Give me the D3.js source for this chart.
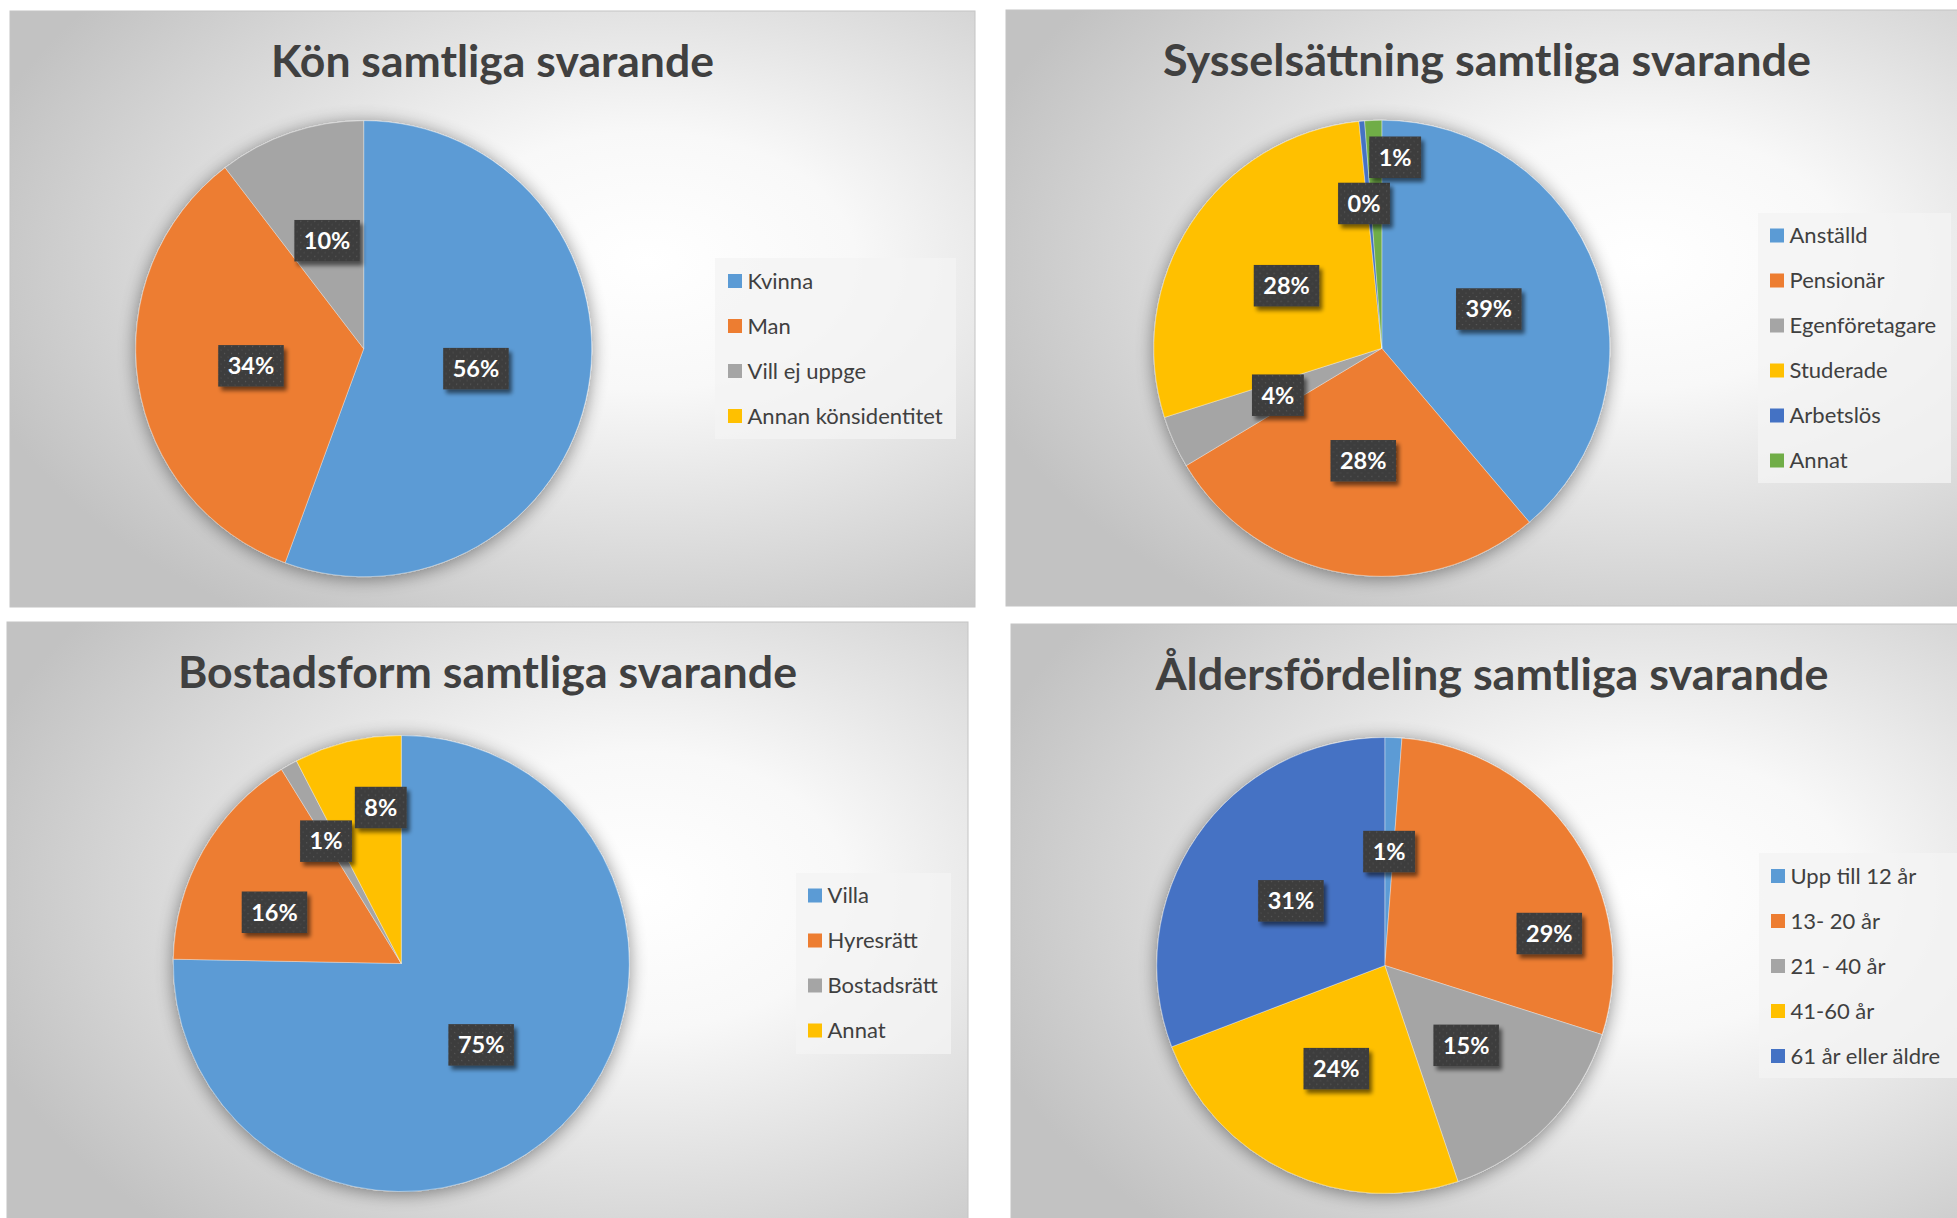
<!DOCTYPE html>
<html><head><meta charset="utf-8">
<script src="https://cdn.jsdelivr.net/npm/d3@7"></script>
<style>
body{margin:0;background:#fff;overflow:hidden}
svg{display:block}
</style>
</head><body>
<svg id="c" width="1957" height="1218"></svg>
<script>
// ---------- DATA ----------
const konTitle = "Kön samtliga svarande";
const konCategories = ["Kvinna", "Man", "Vill ej uppge", "Annan könsidentitet"];
const konValues = [55.6, 34.0, 10.4, 0];

const sysTitle = "Sysselsättning samtliga svarande";
const sysCategories = ["Anställd", "Pensionär", "Egenföretagare", "Studerade", "Arbetslös", "Annat"];
const sysValues = [38.8, 27.6, 3.7, 28.3, 0.4, 1.2];

const bostadTitle = "Bostadsform samtliga svarande";
const bostadCategories = ["Villa", "Hyresrätt", "Bostadsrätt", "Annat"];
const bostadValues = [75.3, 15.9, 1.2, 7.6];

const alderTitle = "Åldersfördeling samtliga svarande";
const alderCategories = ["Upp till 12 år", "13- 20 år", "21 - 40 år", "41-60 år", "61 år eller äldre"];
const alderValues = [1.2, 28.7, 14.9, 24.4, 30.8];

const palette = ["#5B9BD5", "#ED7D31", "#A5A5A5", "#FFC000", "#4472C4", "#70AD47"];

// ---------- LAYOUT ----------
const FONT = "Lato, Carlito, Calibri, 'Open Sans', sans-serif";
const R = 228;
const charts = [
  { title: konTitle, cats: konCategories, vals: konValues, titleW: 443,
    panel: {x: 10, y: 11, w: 965, h: 596}, center: [363.7, 348.7],
    legend: {x: 715, y: 258, w: 241, h: 181, y0: 281, sx: 728},
    labelAdjust: {} },
  { title: sysTitle, cats: sysCategories, vals: sysValues, titleW: 648,
    panel: {x: 1006, y: 10, w: 962, h: 596}, center: [1381.8, 348.3],
    legend: {x: 1758, y: 213, w: 193, h: 270, y0: 235.5, sx: 1770},
    labelAdjust: {4: {a: 353, f: 0.64}, 5: {a: 4, f: 0.84}} },
  { title: bostadTitle, cats: bostadCategories, vals: bostadValues, titleW: 619,
    panel: {x: 7, y: 622, w: 961, h: 640}, center: [401.3, 963.5],
    legend: {x: 796, y: 873, w: 155, h: 181, y0: 895.5, sx: 808},
    labelAdjust: {1: {a: 292, f: 0.60}, 2: {a: 328.4, f: 0.63}, 3: {a: 352.5, f: 0.69}} },
  { title: alderTitle, cats: alderCategories, vals: alderValues, titleW: 673,
    panel: {x: 1011, y: 624, w: 962, h: 640}, center: [1384.8, 965.5],
    legend: {x: 1759, y: 853, w: 210, h: 225, y0: 876, sx: 1771},
    labelAdjust: {1: {a: 79, f: 0.735}} }
];

const svg = d3.select("#c");
const defs = svg.append("defs");

// panel gradient
const grad = defs.append("radialGradient").attr("id", "panelGrad")
  .attr("cx", 0.66).attr("cy", 0.42).attr("r", 0.72).attr("fx", 0.66).attr("fy", 0.42);
grad.append("stop").attr("offset", 0).attr("stop-color", "#ffffff");
grad.append("stop").attr("offset", 0.3).attr("stop-color", "#f8f8f8");
grad.append("stop").attr("offset", 1).attr("stop-color", "#c2c2c2");

// pie shadow
const fp = defs.append("filter").attr("id", "pieShadow")
  .attr("x", -0.2).attr("y", -0.2).attr("width", 1.4).attr("height", 1.4);
fp.append("feGaussianBlur").attr("in", "SourceAlpha").attr("stdDeviation", 9).attr("result", "b");
fp.append("feOffset").attr("in", "b").attr("dx", 0).attr("dy", 2).attr("result", "o");
fp.append("feComponentTransfer").attr("in", "o").attr("result", "s")
  .append("feFuncA").attr("type", "linear").attr("slope", 0.45);
const fpm = fp.append("feMerge");
fpm.append("feMergeNode").attr("in", "s");
fpm.append("feMergeNode").attr("in", "SourceGraphic");

// label box shadow
const fb = defs.append("filter").attr("id", "boxShadow")
  .attr("x", -0.3).attr("y", -0.3).attr("width", 1.6).attr("height", 1.7);
fb.append("feGaussianBlur").attr("in", "SourceAlpha").attr("stdDeviation", 2.2).attr("result", "b");
fb.append("feOffset").attr("in", "b").attr("dx", 3).attr("dy", 3.5).attr("result", "o");
fb.append("feComponentTransfer").attr("in", "o").attr("result", "s")
  .append("feFuncA").attr("type", "linear").attr("slope", 0.55);
const fbm = fb.append("feMerge");
fbm.append("feMergeNode").attr("in", "s");
fbm.append("feMergeNode").attr("in", "SourceGraphic");

// dotted pattern for label boxes
const pat = defs.append("pattern").attr("id", "dots").attr("patternUnits", "userSpaceOnUse")
  .attr("width", 7).attr("height", 7);
pat.append("rect").attr("width", 7).attr("height", 7).attr("fill", "#3d3d3d");
pat.append("rect").attr("x", 1).attr("y", 1).attr("width", 1.2).attr("height", 1.2).attr("fill", "#585858");
pat.append("rect").attr("x", 4.5).attr("y", 4.5).attr("width", 1.2).attr("height", 1.2).attr("fill", "#4e4e4e");

const color = d3.scaleOrdinal().range(palette);
const pct = d3.format(".0%");

charts.forEach((c, ci) => {
  const g = svg.append("g");
  const p = c.panel;
  g.append("rect").attr("x", p.x).attr("y", p.y).attr("width", p.w).attr("height", p.h)
    .attr("fill", "url(#panelGrad)").attr("stroke", "#c4c4c4").attr("stroke-width", 1);

  // title
  g.append("text").attr("x", p.x + p.w / 2).attr("y", p.y + 66)
    .attr("text-anchor", "middle").attr("font-family", FONT).attr("font-weight", 700)
    .attr("font-size", 43).attr("fill", "#404040")
    .attr("textLength", c.titleW).attr("lengthAdjust", "spacingAndGlyphs")
    .text(c.title);

  const total = d3.sum(c.vals);
  const pie = d3.pie().sort(null).value(d => d.v);
  const arcs = pie(c.cats.map((k, i) => ({k, v: c.vals[i], i})));
  const arc = d3.arc().innerRadius(0).outerRadius(R);
  color.domain(c.cats);

  const pg = g.append("g").attr("transform", `translate(${c.center[0]},${c.center[1]})`);
  const sg = pg.append("g").attr("filter", "url(#pieShadow)");
  sg.selectAll("path").data(arcs.filter(d => d.data.v > 0)).join("path")
    .attr("d", arc).attr("fill", d => color(d.data.k))
    .attr("stroke", "rgba(255,255,255,0.45)").attr("stroke-width", 0.8);

  // labels
  const lg = pg.append("g");
  arcs.filter(d => d.data.v > 0).forEach(d => {
    const adj = c.labelAdjust[d.index];
    const a = adj ? adj.a * Math.PI / 180 : (d.startAngle + d.endAngle) / 2;
    const f = adj ? adj.f : 0.5;
    const x = Math.sin(a) * R * f, y = -Math.cos(a) * R * f;
    const lab = lg.append("g").attr("transform", `translate(${x},${y})`);
    const rect = lab.append("rect").attr("fill", "url(#dots)").attr("filter", "url(#boxShadow)");
    const t = lab.append("text").attr("text-anchor", "middle").attr("y", 8.3)
      .attr("font-family", FONT).attr("font-weight", 700).attr("font-size", 23.5)
      .attr("fill", "#ffffff").text(pct(d.data.v / total));
    const tw = t.node().getComputedTextLength();
    const bw = tw + 19, bh = 41.5;
    rect.attr("x", -bw / 2).attr("y", -bh / 2).attr("width", bw).attr("height", bh);
  });

  // legend
  const L = c.legend;
  const leg = g.append("g");
  leg.append("rect").attr("x", L.x).attr("y", L.y).attr("width", L.w).attr("height", L.h)
    .attr("fill", "rgba(244,244,244,0.78)");
  c.cats.forEach((k, i) => {
    const cy = L.y0 + i * 45;
    leg.append("rect").attr("x", L.sx).attr("y", cy - 7).attr("width", 14).attr("height", 14)
      .attr("fill", color(k));
    leg.append("text").attr("x", L.sx + 19.5).attr("y", cy + 7.8)
      .attr("font-family", FONT).attr("font-size", 22).attr("fill", "#404040").text(k);
  });
});
</script>
</body></html>
